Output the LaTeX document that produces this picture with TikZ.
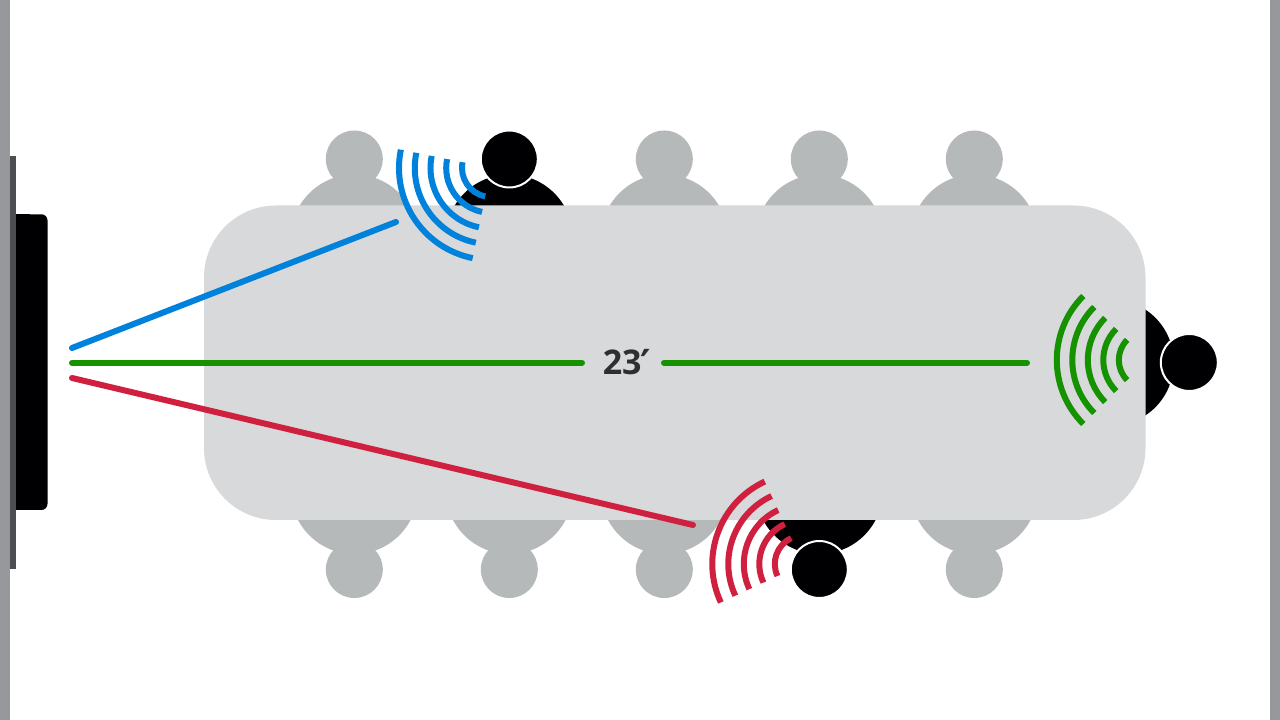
\documentclass[tikz,border=0pt]{standalone}
\usepackage{fontspec}
\setmainfont{Open Sans}
\newfontfamily\primefont{DejaVu Sans}
\usetikzlibrary{calc}
\definecolor{sidebar}{HTML}{97989C}
\definecolor{wallbar}{HTML}{4D4E52}
\definecolor{tabletop}{HTML}{D8D9DB}
\definecolor{seat}{HTML}{B6B9BA}
\definecolor{ink}{HTML}{000003}
\definecolor{bluewave}{HTML}{0082DC}
\definecolor{greenwave}{HTML}{169200}
\definecolor{redwave}{HTML}{D0203F}
\definecolor{labelink}{HTML}{2E2F32}
\tikzset{
  x=1pt,y=1pt,
  ray/.style={line width=6pt,line cap=round},
  wave/.style={line width=6pt,line cap=butt},
  lbl/.style={inner sep=0pt,font=\fontsize{34}{34}\selectfont\bfseries,text=labelink}
}
% #1 head x, #2 head y, #3 body centre x, #4 body centre y (picture coordinates, y up)
\newcommand{\grayseat}[4]{%
  \fill[seat] (#3,#4) circle[radius=63.5];
  \fill[seat] (#1,#2) circle[radius=28.5];}
\newcommand{\blackseat}[4]{%
  \fill[ink] (#3,#4) circle[radius=63.5];
  \fill[ink,draw=white,line width=2pt] (#1,#2) circle[radius=28.5];}
% #1 cx, #2 cy, #3 start, #4 end, #5 colour, #6 radii
\newcommand{\waves}[6]{%
  \foreach \rr in {#6}
    \draw[wave,#5] ($(#1,#2)+(#3:\rr)$) arc[start angle=#3,end angle=#4,radius=\rr];}
\begin{document}
\begin{tikzpicture}
\useasboundingbox (0,0) rectangle (1280,720);
\fill[white] (0,0) rectangle (1280,720);
\fill[sidebar] (0,0) rectangle (10.3,720);
\fill[sidebar] (1270,0) rectangle (1280,720);
\fill[wallbar] (10.3,151) rectangle (16,564);
\fill[ink,rounded corners=6pt] (16,210) rectangle (47.5,505.7);
\fill[ink] (16,210) rectangle (30,505.7);
% seats, top row
\grayseat{354.3}{561}{354.3}{482}
\blackseat{509.3}{561}{509.3}{482}
\grayseat{664.3}{561}{664.3}{482}
\grayseat{819.3}{561}{819.3}{482}
\grayseat{974.3}{561}{974.3}{482}
% seats, bottom row
\grayseat{354.3}{150.5}{354.3}{229.5}
\grayseat{509.3}{150.5}{509.3}{229.5}
\grayseat{664.3}{150.5}{664.3}{229.5}
\blackseat{819.3}{150.5}{819.3}{229.5}
\grayseat{974.3}{150.5}{974.3}{229.5}
% seat at the end of the table
\blackseat{1189.3}{357.5}{1110.3}{357.5}
% table
\fill[tabletop,rounded corners=72pt] (204,200) rectangle (1145.5,514.5);
% rays
\coordinate (disp1) at (72,372);
\coordinate (blueend) at (396,498);
\coordinate (disp2) at (72,357.3);
\coordinate (greenleft) at (582,357.3);
\coordinate (greenright) at (664,357.3);
\coordinate (greenend) at (1027,357.3);
\coordinate (disp3) at (72,342);
\coordinate (redend) at (693,195);
\node[lbl,anchor=base] (dist) at (627,345) {23{\primefont\fontsize{40}{40}\selectfont\kern-1pt\raisebox{-4pt}{\smash{′}}}};
\draw[ray,bluewave] (disp1) -- (blueend);
\draw[ray,greenwave] (disp2) -- (greenleft);
\draw[ray,greenwave] (greenright) -- (greenend);
\draw[ray,redwave] (disp3) -- (redend);
% waves
\waves{491}{552}{168.5}{258.5}{bluewave}{29,44.8,60.5,76.2,92}
\waves{1147.3}{360}{135}{225}{greenwave}{28.5,44,59.5,75,90.5}
\waves{803.3}{156}{115}{205}{redwave}{28.5,44,59.5,75,91}
\end{tikzpicture}
\end{document}
